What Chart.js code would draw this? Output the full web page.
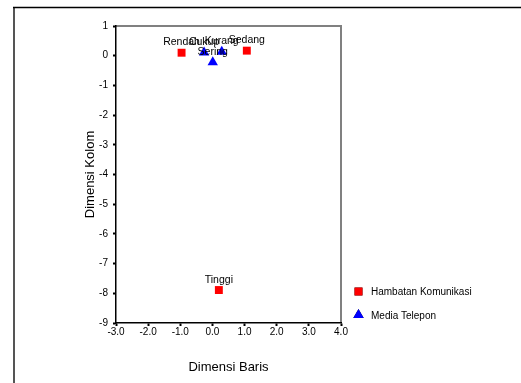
<!DOCTYPE html>
<html>
<head>
<meta charset="utf-8">
<script src="https://cdn.jsdelivr.net/npm/chart.js@4/dist/chart.umd.min.js"></script>
<style>
html,body{margin:0;padding:0;background:#fff;}
#wrap{width:521px;height:383px;position:relative;}
</style>
</head>
<body>
<div id="wrap"><canvas id="c" width="521" height="383"></canvas></div>
<script>
// Data
const hambatanLabels = ["Rendah", "Sedang", "Tinggi"];
const hambatanX = [-0.96, 1.07, 0.20];
const hambatanY = [0.10, 0.17, -7.89];

const mediaLabels = ["Cukup", "Kurang", "Sering"];
const mediaX = [-0.26, 0.29, 0.01];
const mediaY = [0.11, 0.13, -0.22];

const seriesNames = ["Hambatan Komunikasi", "Media Telepon"];
const xTicks = [-3, -2, -1, 0, 1, 2, 3, 4];
const yTicks = [1, 0, -1, -2, -3, -4, -5, -6, -7, -8, -9];

const FONT = "'Liberation Sans', Arial, sans-serif";

function pts(xs, ys, names) {
  return xs.map((x, i) => ({ x: x, y: ys[i], name: names[i] }));
}

const framePlugin = {
  id: 'frame',
  beforeDraw(chart) {
    const ctx = chart.ctx;
    ctx.save();
    ctx.fillStyle = '#fff';
    ctx.fillRect(0, 0, chart.width, chart.height);
    // outer frame
    ctx.strokeStyle = '#555';
    ctx.lineWidth = 2;
    ctx.beginPath();
    ctx.moveTo(14, 7);
    ctx.lineTo(14, chart.height);
    ctx.stroke();
    ctx.strokeStyle = '#000';
    ctx.lineWidth = 1.5;
    ctx.beginPath();
    ctx.moveTo(13, 7.5);
    ctx.lineTo(chart.width, 7.5);
    ctx.stroke();
    // plot area top/right border
    const a = chart.chartArea;
    ctx.strokeStyle = '#808080';
    ctx.lineWidth = 2;
    ctx.beginPath();
    ctx.moveTo(a.left, a.top);
    ctx.lineTo(a.right, a.top);
    ctx.lineTo(a.right, a.bottom);
    ctx.stroke();
    ctx.restore();
  },
  afterDatasetsDraw(chart) {
    const ctx = chart.ctx;
    ctx.save();
    ctx.font = '10.5px ' + FONT;
    ctx.fillStyle = '#000';
    ctx.textAlign = 'center';
    ctx.textBaseline = 'alphabetic';
    chart.data.datasets.forEach((ds, di) => {
      const meta = chart.getDatasetMeta(di);
      meta.data.forEach((el, i) => {
        ctx.fillText(ds.data[i].name, el.x, el.y - 7.5);
      });
    });
    // legend
    const items = [
      { name: seriesNames[0], style: 'rect', color: '#ff0000', y: 291.5, r: 5.6 },
      { name: seriesNames[1], style: 'triangle', color: '#0000ff', y: 315, r: 6 }
    ];
    ctx.font = '10px ' + FONT;
    ctx.textAlign = 'left';
    ctx.textBaseline = 'middle';
    items.forEach(it => {
      Chart.helpers.drawPoint(ctx, { pointStyle: it.style, radius: it.r, borderWidth: 0 }, 358.5, it.y);
      ctx.fillStyle = it.color;
      ctx.fill();
      ctx.fillStyle = '#000';
      ctx.fillText(it.name, 371, it.y + 1);
    });
    ctx.restore();
  }
};

new Chart(document.getElementById('c'), {
  type: 'scatter',
  data: {
    datasets: [
      {
        label: seriesNames[0],
        data: pts(hambatanX, hambatanY, hambatanLabels),
        pointStyle: 'rect',
        pointRadius: 5.6,
        pointHoverRadius: 5.6,
        backgroundColor: '#ff0000',
        borderColor: '#ff0000',
        borderWidth: 0
      },
      {
        label: seriesNames[1],
        data: pts(mediaX, mediaY, mediaLabels),
        pointStyle: 'triangle',
        pointRadius: 6,
        pointHoverRadius: 6,
        backgroundColor: '#0000ff',
        borderColor: '#0000ff',
        borderWidth: 0
      }
    ]
  },
  options: {
    responsive: false,
    animation: false,
    devicePixelRatio: 1,
    layout: { padding: { top: 26, right: 180, left: 0, bottom: 0 } },
    plugins: { legend: { display: false }, tooltip: { enabled: false } },
    scales: {
      x: {
        type: 'linear',
        min: -3, max: 4,
        afterFit(s) { s.height = 60; },
        afterBuildTicks(s) { s.ticks = xTicks.map(v => ({ value: v })); },
        ticks: {
          font: { size: 10, family: FONT },
          color: '#000',
          padding: 0,
          maxRotation: 0,
          callback: v => Number(v).toFixed(1)
        },
        grid: { drawOnChartArea: false, drawTicks: true, tickLength: 3, tickColor: '#000', tickWidth: 2 },
        border: { display: true, color: '#000', width: 1.5 },
        title: { display: true, text: 'Dimensi Baris', color: '#000', font: { size: 13, family: FONT }, padding: { top: 0, bottom: 8 } }
      },
      y: {
        type: 'linear',
        min: -9, max: 1,
        afterFit(s) { s.width = 116; },
        afterBuildTicks(s) { s.ticks = yTicks.map(v => ({ value: v })); },
        ticks: {
          font: { size: 10, family: FONT },
          color: '#000',
          padding: 5,
          callback: v => String(v)
        },
        grid: { drawOnChartArea: false, drawTicks: true, tickLength: 3, tickColor: '#000', tickWidth: 2 },
        border: { display: true, color: '#000', width: 1.5 },
        title: { display: true, text: 'Dimensi Kolom', color: '#000', font: { size: 13, family: FONT }, padding: { top: 83, bottom: 0 } }
      }
    }
  },
  plugins: [framePlugin]
});
</script>
</body>
</html>
